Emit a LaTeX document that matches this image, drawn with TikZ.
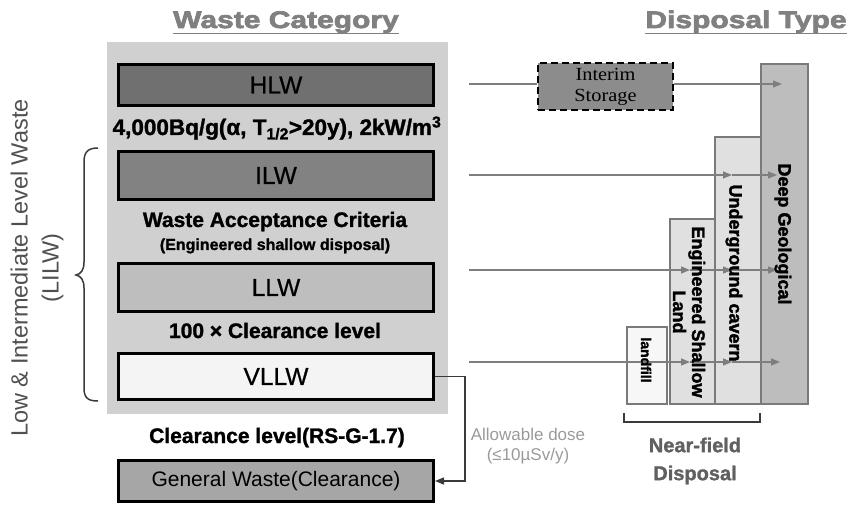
\documentclass[tikz,border=0pt]{standalone}
\usepackage{fontspec}
\setmainfont{Liberation Sans}[BoldFeatures={FakeBold=1.3}]
\newfontfamily\titlefont[FakeStretch=1.25,BoldFeatures={FakeBold=3}]{Liberation Sans}
\newfontfamily\boxfont[FakeBold=0.7]{Liberation Sans}
\newfontfamily\colfont[FakeBold=2]{Liberation Sans Bold}
\newfontfamily\minchofont[FakeStretch=1.1]{Liberation Serif}
\usetikzlibrary{arrows.meta}
\definecolor{bggray}{HTML}{D0D0D0}
\definecolor{hlwgray}{HTML}{707070}
\definecolor{ilwgray}{HTML}{828282}
\definecolor{llwgray}{HTML}{BEBEBE}
\definecolor{vllwgray}{HTML}{F4F4F4}
\definecolor{gwgray}{HTML}{A6A6A6}
\definecolor{intgray}{HTML}{8C8C8C}
\definecolor{deepgray}{HTML}{BDBDBD}
\definecolor{midgray}{HTML}{E0E0E0}
\definecolor{lfgray}{HTML}{F7F7F7}
\definecolor{colborder}{HTML}{7A7A7A}
\definecolor{arrgray}{HTML}{7E7E7E}
\definecolor{tgray}{HTML}{808080}
\definecolor{dosegray}{HTML}{9A9A9A}
\definecolor{nfgray}{HTML}{606060}
\definecolor{sidegray}{HTML}{505050}
\definecolor{darkline}{HTML}{3A3A3A}
\begin{document}
\begin{tikzpicture}[x=1pt,y=-1pt,
  wbox/.style={draw=black, line width=3pt, minimum width=315pt, inner sep=0pt, font=\boxfont\fontsize{24.5}{28}\selectfont},
  col/.style={draw=colborder, line width=2.5pt, inner sep=0pt},
  arr/.style={draw=arrgray, line width=1.3pt, -{Triangle[length=9pt,width=7pt]}},
  plainln/.style={draw=arrgray, line width=1.3pt},
  lbl/.style={font=\bfseries\fontsize{21}{24}\selectfont, anchor=base, inner sep=0pt},
  coltext/.style={rotate=-90, font=\colfont\fontsize{18}{19}\selectfont, align=center, inner sep=0pt},
  title/.style={font=\titlefont\bfseries\fontsize{24}{26}\selectfont, text=tgray, anchor=base, inner sep=0pt}
]
\useasboundingbox (0,0) rectangle (849,505);

% titles
\node[title] (t1) at (286,28) {Waste Category};
\draw[tgray, line width=1.5pt] ([yshift=-5.5pt]t1.base west) -- ([yshift=-5.5pt]t1.base east);
\node[title] (t2) at (746,28) {Disposal Type};
\draw[tgray, line width=1.5pt] ([yshift=-5.5pt]t2.base west) -- ([yshift=-5.5pt]t2.base east);

% background
\node[fill=bggray, minimum width=341pt, minimum height=372pt, inner sep=0pt] (bg) at (277.5,228) {};

% waste boxes
\node[wbox, fill=hlwgray, minimum height=41pt] (hlw) at (276,85) {HLW};
\node[wbox, fill=ilwgray, minimum height=48pt] (ilw) at (276,175.5) {ILW};
\node[wbox, fill=llwgray, minimum height=48pt] (llw) at (276,287.5) {LLW};
\node[wbox, fill=vllwgray, minimum height=46pt] (vllw) at (276,376.5) {VLLW};
\node[wbox, fill=gwgray, minimum height=41pt, font=\fontsize{21}{24}\selectfont] (gw) at (276,481) {General Waste(Clearance)};

% labels between boxes
\node[lbl, font=\bfseries\fontsize{22.5}{24}\selectfont] (thr) at (277,135) {4,000Bq/g(α, T\textsubscript{1/2}>20y), 2kW/m\textsuperscript{3}};
\node[lbl] (wac) at (275,227) {Waste Acceptance Criteria};
\node[lbl, font=\bfseries\fontsize{16}{18}\selectfont] (eng) at (275,250) {(Engineered shallow disposal)};
\node[lbl] (hcl) at (275,338) {100 × Clearance level};
\node[lbl] (cl) at (277,443) {Clearance level(RS-G-1.7)};

% left brace and text
\draw[darkline, line width=1.5pt] (98,148) .. controls (88,148) and (84,152) .. (84,162) -- (84,262) .. controls (84,270) and (81,274) .. (76,275) .. controls (81,276) and (84,280) .. (84,288) -- (84,388) .. controls (84,398) and (88,401) .. (98,401);
\node[rotate=90, align=center, text=sidegray, font=\fontsize{23.5}{31}\selectfont, inner sep=0pt] (lilw) at (37,268) {Low \& Intermediate Level Waste\\(LILW)};

% disposal columns
\node[col, fill=deepgray, minimum width=47pt, minimum height=340pt] (deep) at (784.5,234) {};
\node[col, fill=midgray, minimum width=46pt, minimum height=267pt] (under) at (738,270.5) {};
\node[col, fill=midgray, minimum width=45pt, minimum height=185pt] (engd) at (692.5,311.5) {};
\node[col, fill=lfgray, minimum width=40pt, minimum height=77pt] (land) at (647,365.5) {};

% interim storage
\node[draw=black, dashed, dash pattern=on 7pt off 4pt, line width=2.5pt, fill=intgray, minimum width=135pt, minimum height=47pt, inner sep=0pt, align=center, font=\minchofont\fontsize{18.5}{21}\selectfont] (interim) at (605.5,86.5) {Interim\\Storage};

% arrows
\coordinate (h0) at (469,84);
\coordinate (h1) at (782,84);
\draw[plainln] (h0) -- (h0 -| interim.west);
\draw[arr] (h0 -| interim.east) -- (h1);

\coordinate (i0) at (469,175);
\coordinate (i1) at (732,175);
\coordinate (i2) at (777,175);
\draw[arr] (i0) -- (i1);
\draw[arr] (i1) -- (i2);

\coordinate (l0) at (469,270);
\coordinate (l1) at (690,270);
\coordinate (l2) at (732,270);
\coordinate (l3) at (777,270);
\draw[arr] (l0) -- (l1);
\draw[arr] (l1) -- (l2);
\draw[arr] (l2) -- (l3);

\coordinate (v0) at (469,362);
\coordinate (v1) at (690,362);
\coordinate (v2) at (732,362);
\coordinate (v3) at (780,362);
\draw[arr] (v0) -- (v1);
\draw[arr] (v1) -- (v2);
\draw[arr] (v2) -- (v3);

% column texts
\node[coltext] (deept) at (783,234) {Deep Geological};
\node[coltext] (undert) at (734,273) {Underground cavern};
\node[coltext] (engt) at (689,312) {Engineered Shallow\\Land};
\node[coltext, font=\colfont\fontsize{14}{15}\selectfont] (landt) at (646,360) {landfill};

% clearance connector
\draw[darkline, line width=1.3pt, -{Triangle[length=9pt,width=7pt]}] (vllw.east) -- ++(30,0) |- (gw.east);
\node[align=center, text=dosegray, font=\fontsize{17}{20}\selectfont, inner sep=0pt] (dose) at (528,446) {Allowable dose\\(≤10µSv/y)};

% near-field bracket
\draw[darkline, line width=1.5pt] (624,413) -- (624,422) -- (760,422) -- (760,413);
\node[align=center, text=nfgray, font=\bfseries\fontsize{20}{28}\selectfont, inner sep=0pt] (nf) at (695,461) {Near-field\\Disposal};
\end{tikzpicture}
\end{document}
